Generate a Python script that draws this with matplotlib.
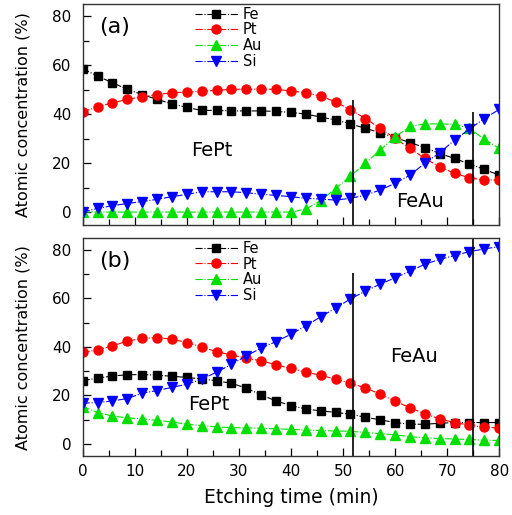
import matplotlib
matplotlib.use('Agg')
import matplotlib.pyplot as plt

# etching time (min), 29 sampling points
time = [0, 2.86, 5.71, 8.57, 11.43, 14.29, 17.14, 20.0, 22.86, 25.71,
        28.57, 31.43, 34.29, 37.14, 40.0, 42.86, 45.71, 48.57, 51.43, 54.29,
        57.14, 60.0, 62.86, 65.71, 68.57, 71.43, 74.29, 77.14, 80.0]

# panel (a)
fe_a = [58.6, 55.5, 52.8, 50.1, 48.0, 46.0, 44.2, 42.7, 41.5, 41.5,
        41.3, 41.3, 41.3, 41.1, 40.7, 40.0, 38.8, 37.6, 36.0, 34.2,
        32.4, 30.4, 28.4, 26.3, 23.9, 21.9, 19.6, 17.4, 15.1]
pt_a = [40.9, 43.0, 44.6, 46.0, 47.1, 48.0, 48.7, 49.0, 49.3, 49.7,
        50.1, 50.2, 50.2, 50.1, 49.5, 48.7, 47.3, 45.0, 41.8, 38.2,
        34.2, 30.1, 26.0, 21.9, 18.5, 15.8, 14.0, 13.1, 13.1]
au_a = [0, 0, 0, 0, 0, 0, 0, 0, 0, 0,
        0, 0, 0, 0, 0, 1.2, 4.7, 9.6, 14.7, 19.9,
        25.3, 30.7, 35.0, 36.0, 36.0, 35.8, 34.2, 29.7, 26.0]
si_a = [0, 1.5, 2.6, 3.5, 4.3, 5.2, 6.3, 7.2, 8.3, 8.3,
        8.3, 7.9, 7.3, 6.8, 6.3, 5.6, 5.3, 4.9, 5.6, 6.9,
        9.0, 11.7, 15.1, 19.9, 24.2, 29.4, 33.9, 38.2, 41.9]

# panel (b)
fe_b = [26.1, 27.1, 28.0, 28.5, 28.6, 28.3, 27.9, 27.4, 26.8, 26.0,
        25.0, 23.0, 20.2, 17.7, 15.8, 14.4, 13.6, 13.0, 12.2, 11.0,
        9.9, 8.8, 8.1, 8.1, 8.5, 8.8, 8.8, 8.8, 8.8]
pt_b = [37.7, 38.8, 40.4, 42.4, 43.5, 43.8, 43.2, 41.8, 40.0, 38.0,
        36.7, 35.3, 34.3, 32.6, 31.1, 29.6, 28.3, 26.7, 25.0, 23.1,
        20.5, 17.6, 14.9, 12.4, 10.3, 8.8, 7.7, 6.9, 6.5]
au_b = [15.4, 12.9, 11.5, 10.7, 10.3, 9.7, 9.0, 8.1, 7.5, 7.0,
        6.7, 6.6, 6.4, 6.2, 6.0, 5.7, 5.5, 5.3, 5.2, 4.7,
        4.2, 3.7, 3.0, 2.5, 2.2, 2.0, 1.8, 1.5, 1.4]
si_b = [16.8, 17.0, 17.7, 18.7, 20.9, 22.0, 23.3, 24.6, 26.6, 29.6,
        32.8, 36.3, 39.5, 42.2, 45.2, 48.7, 52.4, 56.0, 59.8, 63.0,
        65.9, 68.5, 71.2, 74.1, 76.1, 77.7, 79.3, 80.4, 81.4]

# phase boundaries (min) and how high the lines reach in each panel
bound_x = [52, 75]
bound_top_a = [45.7, 41.0]
bound_top_b = [70.5, 85.0]

elements = ['Fe', 'Pt', 'Au', 'Si']
colors = ['black', 'red', '#00e000', 'blue']
markers = ['s', 'o', '^', 'v']
msizes = [5.5, 6.5, 6.5, 6.5]

fig = plt.figure(figsize=(5.12, 5.15), dpi=100)
ax_a = fig.add_axes([0.1615, 0.563, 0.8135, 0.429])
ax_b = fig.add_axes([0.1615, 0.1146, 0.8135, 0.4227])

panels = [
    (ax_a, [fe_a, pt_a, au_a, si_a], (-5.3, 84.9), bound_top_a, '(a)'),
    (ax_b, [fe_b, pt_b, au_b, si_b], (-5.0, 84.8), bound_top_b, '(b)'),
]

for ax, series, ylim, btop, tag in panels:
    for vals, name, c, m, s in zip(series, elements, colors, markers, msizes):
        ax.plot(time, vals, linestyle='-.', lw=0.8, color=c, marker=m,
                ms=s, mec=c, mfc=c, label=name)
    ax.vlines(bound_x, ylim[0], btop, color='black', lw=1.2)
    ax.set_xlim(0, 80)
    ax.set_ylim(*ylim)
    ax.set_yticks([0, 20, 40, 60, 80])
    ax.set_yticks([10, 30, 50, 70], minor=True)
    ax.set_xticks(range(0, 81, 10))
    ax.set_xticks(range(5, 80, 10), minor=True)
    ax.tick_params(which='both', direction='in', top=False, right=False,
                   labelsize=11)
    ax.tick_params(axis='y', pad=8)
    ax.tick_params(axis='x', pad=6)
    ax.tick_params(which='major', length=6, width=0.9)
    ax.tick_params(which='minor', length=4, width=0.9)
    for sp in ax.spines.values():
        sp.set_linewidth(1.0)
        sp.set_color('#333333')
    ax.set_ylabel('Atomic concentration (%)', fontsize=11.5)
    ax.yaxis.set_label_coords(-0.125, 0.5)
    ax.text(3.2, 75.5, tag, fontsize=16, va='center', ha='left')
    ax.legend(loc='upper left', bbox_to_anchor=(0.265, 0.995), frameon=False,
              fontsize=10.5, handlelength=3.0, handletextpad=0.3,
              labelspacing=0.05, borderpad=0.1, borderaxespad=0)

ax_a.tick_params(labelbottom=False)
ax_a.text(24.8, 25.3, 'FePt', fontsize=14, ha='center', va='center')
ax_a.text(64.8, 4.2, 'FeAu', fontsize=14, ha='center', va='center')
ax_b.text(24.3, 16.4, 'FePt', fontsize=14, ha='center', va='center')
ax_b.text(63.7, 36.0, 'FeAu', fontsize=14, ha='center', va='center')
ax_b.set_xlabel('Etching time (min)', fontsize=13.5, labelpad=6)

fig.savefig('out.png', dpi=100)
